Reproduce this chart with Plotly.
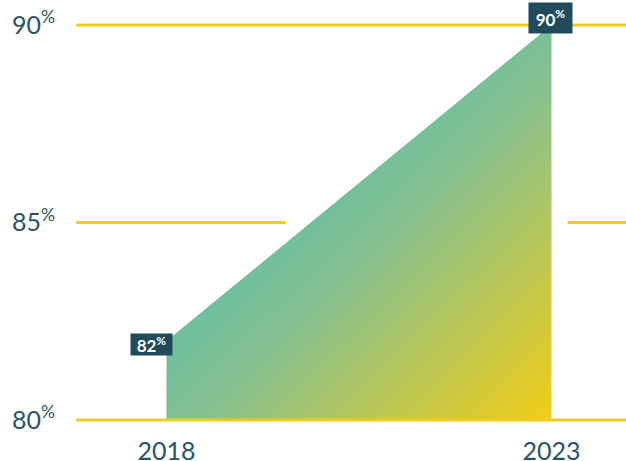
import numpy as np
import plotly.graph_objects as go

# ---- data ----
years = [2018, 2023]
values = [82, 90]
y_ticks = [80, 85, 90]
y_tick_labels = ["80<sup>%</sup>", "85<sup>%</sup>", "90<sup>%</sup>"]
x_tick_labels = ["2018", "2023"]
point_labels = ["82<sup>%</sup>", "90<sup>%</sup>"]

# ---- style ----
TEXT = "#2a5365"
BOX = "#214b5b"
YELLOW = "#f1cc1c"
FONT = "Lato"

x_range = [2016.825, 2023.968]
y_range = [79.873, 90.127]
y_min = y_ticks[0]

# gradient fill (diagonal green -> yellow), clipped by a white mask above the line
nx, ny = 160, 160
gx = np.linspace(years[0], years[1], nx + 1)
gy = np.linspace(y_min, max(values), ny + 1)
cx = (gx[:-1] + gx[1:]) / 2
cy = (gy[:-1] + gy[1:]) / 2
X, Y = np.meshgrid(cx, cy)
px_per_x = 77.0
px_per_y = 39.5
w = (years[1] - years[0]) * px_per_x
h = (max(values) - y_min) * px_per_y
T = ((X - years[0]) * px_per_x * w + (max(values) - Y) * px_per_y * h) / (w * w + h * h)

colorscale = [
    [0.0, "#5ebea6"],
    [0.40, "#6bbf9f"],
    [0.55, "#86c091"],
    [1.0, "#f2cd16"],
]

fig = go.Figure()
fig.add_trace(go.Heatmap(
    x=gx, y=gy, z=T, zmin=0, zmax=1, colorscale=colorscale,
    showscale=False, zsmooth="best", hoverinfo="skip",
))
# white mask above the line (slightly oversized to hide edge antialiasing)
d = 0.05
fig.add_trace(go.Scatter(
    x=[years[0] - d, years[0], years[1], years[1] + d, years[1] + d, years[0] - d, years[0] - d],
    y=[values[0], values[0], values[1], values[1], values[1] + 0.3, values[1] + 0.3, values[0]],
    mode="lines", fill="toself", fillcolor="white",
    line=dict(width=0, color="white"), hoverinfo="skip", showlegend=False,
))

# gridlines as shapes above the fill
slope = (values[1] - values[0]) / (years[1] - years[0])
x85 = years[0] + (85 - values[0]) / slope
gap_left = x85 - 25 / px_per_x
gap_right = years[1] + 16 / px_per_x
shapes = [
    dict(type="line", xref="paper", x0=0, x1=1, yref="y", y0=80, y1=80,
         line=dict(color=YELLOW, width=3), layer="above"),
    dict(type="line", xref="paper", x0=0, x1=1, yref="y", y0=90, y1=90,
         line=dict(color=YELLOW, width=3), layer="above"),
    dict(type="line", xref="x", x0=x_range[0], x1=gap_left, yref="y", y0=85, y1=85,
         line=dict(color=YELLOW, width=3), layer="above"),
    dict(type="line", xref="x", x0=gap_right, x1=x_range[1], yref="y", y0=85, y1=85,
         line=dict(color=YELLOW, width=3), layer="above"),
]

annotations = [
    dict(x=years[0], y=values[0], xref="x", yref="y", text=point_labels[0],
         showarrow=False, bgcolor=BOX, borderpad=0, width=41, height=21,
         xshift=-15, yshift=-4,
         font=dict(family=FONT, size=17, color="white", weight="bold")),
    dict(x=years[1], y=values[1], xref="x", yref="y", text=point_labels[1],
         showarrow=False, bgcolor=BOX, borderpad=0, width=43, height=30,
         xshift=-1, yshift=7,
         font=dict(family=FONT, size=17, color="white", weight="bold")),
]

fig.update_layout(
    width=626, height=461,
    margin=dict(l=76, r=0, t=20, b=36, autoexpand=False),
    paper_bgcolor="white", plot_bgcolor="white",
    showlegend=False,
    shapes=shapes,
    annotations=annotations,
    xaxis=dict(range=x_range, tickvals=years, ticktext=x_tick_labels,
               showgrid=False, zeroline=False, showline=False, automargin=False,
               ticks="outside", ticklen=4, tickcolor="rgba(0,0,0,0)",
               tickfont=dict(family=FONT, size=25, color=TEXT), fixedrange=True),
    yaxis=dict(range=y_range, tickvals=y_ticks, ticktext=y_tick_labels,
               showgrid=False, zeroline=False, showline=False, automargin=False,
               ticks="outside", ticklen=15, tickcolor="rgba(0,0,0,0)",
               tickfont=dict(family=FONT, size=25, color=TEXT), fixedrange=True),
)

fig.write_html("out.html", config={"displayModeBar": False},
               post_script="document.body.style.margin='0';document.body.style.overflow='hidden';")
